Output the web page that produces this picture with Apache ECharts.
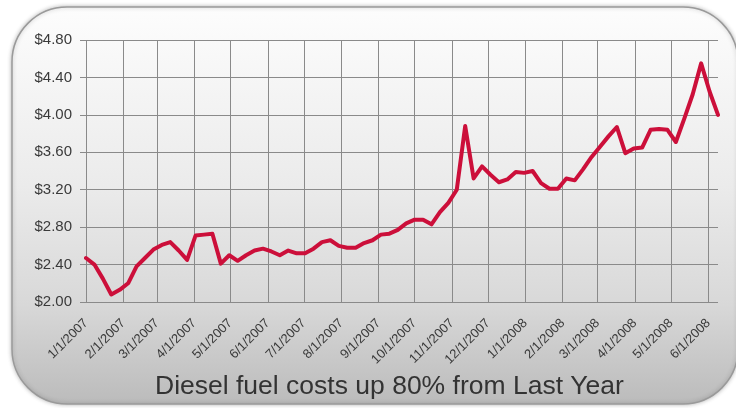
<!DOCTYPE html>
<html>
<head>
  <meta charset="utf-8">
  <title>Diesel fuel costs</title>
  <script src="https://cdn.jsdelivr.net/npm/echarts@6/dist/echarts.min.js"></script>
  <style>
    html, body { margin: 0; padding: 0; background: #fff; }
  </style>
</head>
<body>
  <div id="main" style="width: 736px;height:408px;"></div>
  <script type="text/javascript">
    // weekly diesel price, first reading on 1/1/2007, one per week
    var firstWeek = Date.UTC(2007, 0, 1);
    var lastDay = Date.UTC(2008, 5, 9);
    var prices = [
      2.47, 2.40, 2.25, 2.08, 2.13, 2.20, 2.38, 2.47, 2.56, 2.61,
      2.64, 2.55, 2.45, 2.71, 2.72, 2.73, 2.41, 2.50, 2.44, 2.50,
      2.55, 2.57, 2.54, 2.50, 2.55, 2.52, 2.52, 2.57, 2.64, 2.66,
      2.60, 2.58, 2.58, 2.63, 2.66, 2.72, 2.73, 2.77, 2.84, 2.88,
      2.88, 2.83, 2.96, 3.06, 3.20, 3.88, 3.32, 3.45, 3.36, 3.28,
      3.31, 3.39, 3.38, 3.40, 3.27, 3.21, 3.21, 3.32, 3.30, 3.42,
      3.55, 3.66, 3.77, 3.87, 3.59, 3.64, 3.65, 3.84, 3.85, 3.84,
      3.71, 3.96, 4.22, 4.55, 4.25, 4.00
    ];
    var yTicks = { min: 2, max: 4.8, step: 0.4 };
    var title = 'Diesel fuel costs up 80% from Last Year';

    var DAY = 864e5;
    function fmt(t) {
      var d = new Date(t);
      return (d.getUTCMonth() + 1) + '/' + d.getUTCDate() + '/' + d.getUTCFullYear();
    }

    // one category per day so month lines fall on the real dates
    var days = [];
    for (var t = firstWeek; t <= lastDay; t += DAY) days.push(fmt(t));
    var seriesData = prices.map(function (v, i) {
      return [fmt(firstWeek + i * 7 * DAY), v];
    });
    var isMonthStart = function (idx, name) { return /^\d+\/1\//.test(name); };

    var myChart = echarts.init(document.getElementById('main'));
    var option = {
      backgroundColor: '#fff',
      animation: false,
      graphic: [
        {
          type: 'rect',
          z: -10,
          silent: true,
          shape: { x: 12, y: 7, width: 726, height: 397, r: 55 },
          style: {
            fill: new echarts.graphic.LinearGradient(0, 0, 0, 1, [
              { offset: 0, color: '#fdfdfd' },
              { offset: 0.45, color: '#ebebeb' },
              { offset: 0.75, color: '#d8d8d8' },
              { offset: 1, color: '#bbbbbb' }
            ]),
            stroke: '#9a9a9a',
            lineWidth: 1.5,
            shadowBlur: 4,
            shadowColor: 'rgba(0,0,0,0.25)'
          }
        }
      ],
      title: {
        text: title,
        left: 155,
        top: 373,
        padding: 0,
        textStyle: {
          fontFamily: 'Liberation Sans',
          fontSize: 26.5,
          fontWeight: 'normal',
          color: '#333'
        }
      },
      grid: { left: 86, right: 18, top: 40, bottom: 106 },
      xAxis: {
        type: 'category',
        data: days,
        boundaryGap: false,
        axisLine: { show: false },
        axisTick: { show: false },
        axisLabel: {
          interval: isMonthStart,
          rotate: 45,
          margin: 19,
          fontFamily: 'Liberation Sans',
          fontSize: 13,
          color: '#3a3a3a'
        },
        splitLine: {
          show: true,
          interval: isMonthStart,
          lineStyle: { color: '#8a8a8a', width: 1 }
        }
      },
      yAxis: {
        type: 'value',
        min: yTicks.min,
        max: yTicks.max,
        interval: yTicks.step,
        axisLine: { show: false },
        axisTick: { show: true, length: 6, lineStyle: { color: '#8a8a8a' } },
        axisLabel: {
          margin: 14,
          fontFamily: 'Liberation Sans',
          fontSize: 15,
          color: '#3a3a3a',
          formatter: function (v) { return '$' + v.toFixed(2); }
        },
        splitLine: { lineStyle: { color: '#8a8a8a', width: 1 } }
      },
      series: [
        {
          type: 'line',
          data: seriesData,
          symbol: 'none',
          lineStyle: { color: '#cc0f3a', width: 4, join: 'round', cap: 'round' }
        }
      ]
    };
    myChart.setOption(option);
  </script>
</body>
</html>
